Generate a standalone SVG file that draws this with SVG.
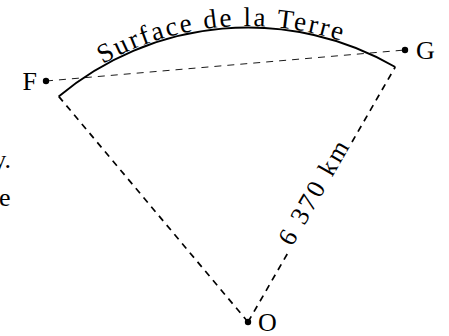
<svg xmlns="http://www.w3.org/2000/svg" width="449" height="336" viewBox="0 0 449 336">
<style>
text{font-family:"Liberation Serif","Times New Roman",serif;fill:#000}
.lbl{font-size:26px}
.arc{font-size:27px}
.thick{fill:none;stroke:#000;stroke-width:1.9}
.dash{fill:none;stroke:#000;stroke-width:1.7;stroke-dasharray:6.5 5.5}
.thin{fill:none;stroke:#000;stroke-width:0.9;stroke-dasharray:7 6}
</style>
<defs>
<path id="tp" d="M 78.2 79.5 A 296 296 0 0 1 373.1 53.7"/>
</defs>
<g id="connectors">
<path class="thin" d="M 46 81 L 405 50"/>
<path class="dash" d="M 248 322 L 58.7 96.4"/>
<path class="dash" d="M 248 322 L 288 252.7"/>
<path class="dash" d="M 352 142 L 395.25 67"/>
</g>
<g id="surface">
<path class="thick" d="M 58.7 96.4 A 294.5 294.5 0 0 1 395.25 67"/>
<text class="arc"><textPath href="#tp" startOffset="29" textLength="246" lengthAdjust="spacing">Surface de la Terre</textPath></text>
</g>
<g id="F">
<circle cx="46" cy="81" r="3.2"/>
<text class="lbl" x="37" y="90" text-anchor="end">F</text>
</g>
<g id="G">
<circle cx="405" cy="50" r="3.2"/>
<text class="lbl" x="416" y="59">G</text>
</g>
<g id="O">
<circle cx="248" cy="322" r="3.2"/>
<text class="lbl" x="258" y="331">O</text>
</g>
<g id="radius-label">
<text class="lbl" x="0" y="0" text-anchor="middle" transform="translate(314 193) rotate(-60)" dy="8" textLength="116" lengthAdjust="spacing">6 370 km</text>
</g>
<g id="fragments">
<text class="lbl" x="11" y="168" text-anchor="end">y.</text>
<text class="lbl" x="-1" y="206">e</text>
</g>
</svg>
